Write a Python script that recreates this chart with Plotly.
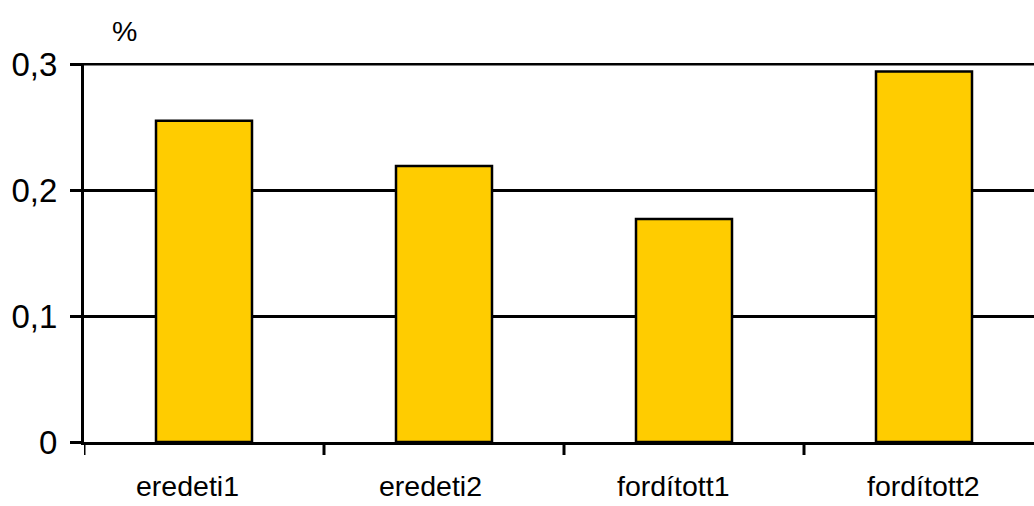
import plotly.graph_objects as go

# Category labels and percentage values
categories = ["eredeti1", "eredeti2", "fordított1", "fordított2"]
values = [0.255, 0.219, 0.177, 0.294]
y_tickvals = [0, 0.1, 0.2, 0.3]
y_ticktext = ["0", "0,1", "0,2", "0,3"]

W, H = 1034, 506
left, top, bottom = 84, 63, 64
cat_px = 240  # pixel width of one category slot
plot_w = W - left
plot_h = H - top - bottom
x_max = -0.5 + plot_w / cat_px
y_max = 0.3 * plot_h / 378  # keeps the 0,3 gridline just inside the plot

font_family = "Liberation Sans, Arial, sans-serif"
x_font = dict(family=font_family, size=28.5, color="black")
y_font = dict(family=font_family, size=33, color="black")

# small horizontal nudges of the category captions (pixels)
label_shift = [-17, -14, -11, -1]

fig = go.Figure(
    go.Bar(
        x=list(range(len(categories))),
        y=values,
        width=0.4,
        marker=dict(color="#FFCC00", line=dict(color="black", width=2.5)),
    )
)

fig.update_layout(
    width=W,
    height=H,
    margin=dict(l=left, r=0, t=top, b=bottom, pad=0),
    plot_bgcolor="white",
    paper_bgcolor="white",
    font=x_font,
    showlegend=False,
)

fig.update_xaxes(
    range=[-0.5, x_max],
    showticklabels=False,
    showgrid=False,
    zeroline=False,
    showline=True,
    linecolor="black",
    linewidth=3,
    ticks="",
)

fig.update_yaxes(
    range=[0, y_max],
    tickmode="array",
    tickvals=y_tickvals,
    ticktext=y_ticktext,
    tickfont=y_font,
    showgrid=True,
    gridcolor="black",
    gridwidth=3,
    zeroline=False,
    showline=True,
    linecolor="black",
    linewidth=3,
    ticks="outside",
    ticklen=11,
    tickwidth=3,
    tickcolor="black",
    ticklabelstandoff=6,
)

# Gridline at the top tick value, drawn behind the bars
fig.add_shape(
    type="line", xref="paper", yref="y",
    x0=0, x1=1, y0=y_tickvals[-1], y1=y_tickvals[-1],
    line=dict(color="black", width=3), layer="below",
)

# Category boundary tick marks below the x axis
for b in [-0.5, 0.5, 1.5, 2.5]:
    fig.add_shape(
        type="line", xref="x", yref="paper",
        x0=b, x1=b, y0=0, y1=-13 / plot_h,
        line=dict(color="black", width=3),
    )

# Category captions under the axis
for i, name in enumerate(categories):
    fig.add_annotation(
        text=name, xref="x", yref="paper",
        x=i, y=-(486 - (H - bottom)) / plot_h,
        xanchor="center", yanchor="middle", showarrow=False,
        xshift=label_shift[i], font=x_font,
    )

# Unit label above the value axis
fig.add_annotation(
    text="%", xref="paper", yref="paper",
    x=(124 - left) / plot_w, y=1 + (top - 31) / plot_h,
    xanchor="center", yanchor="middle", showarrow=False,
    font=x_font,
)

fig.write_html("out.html")
